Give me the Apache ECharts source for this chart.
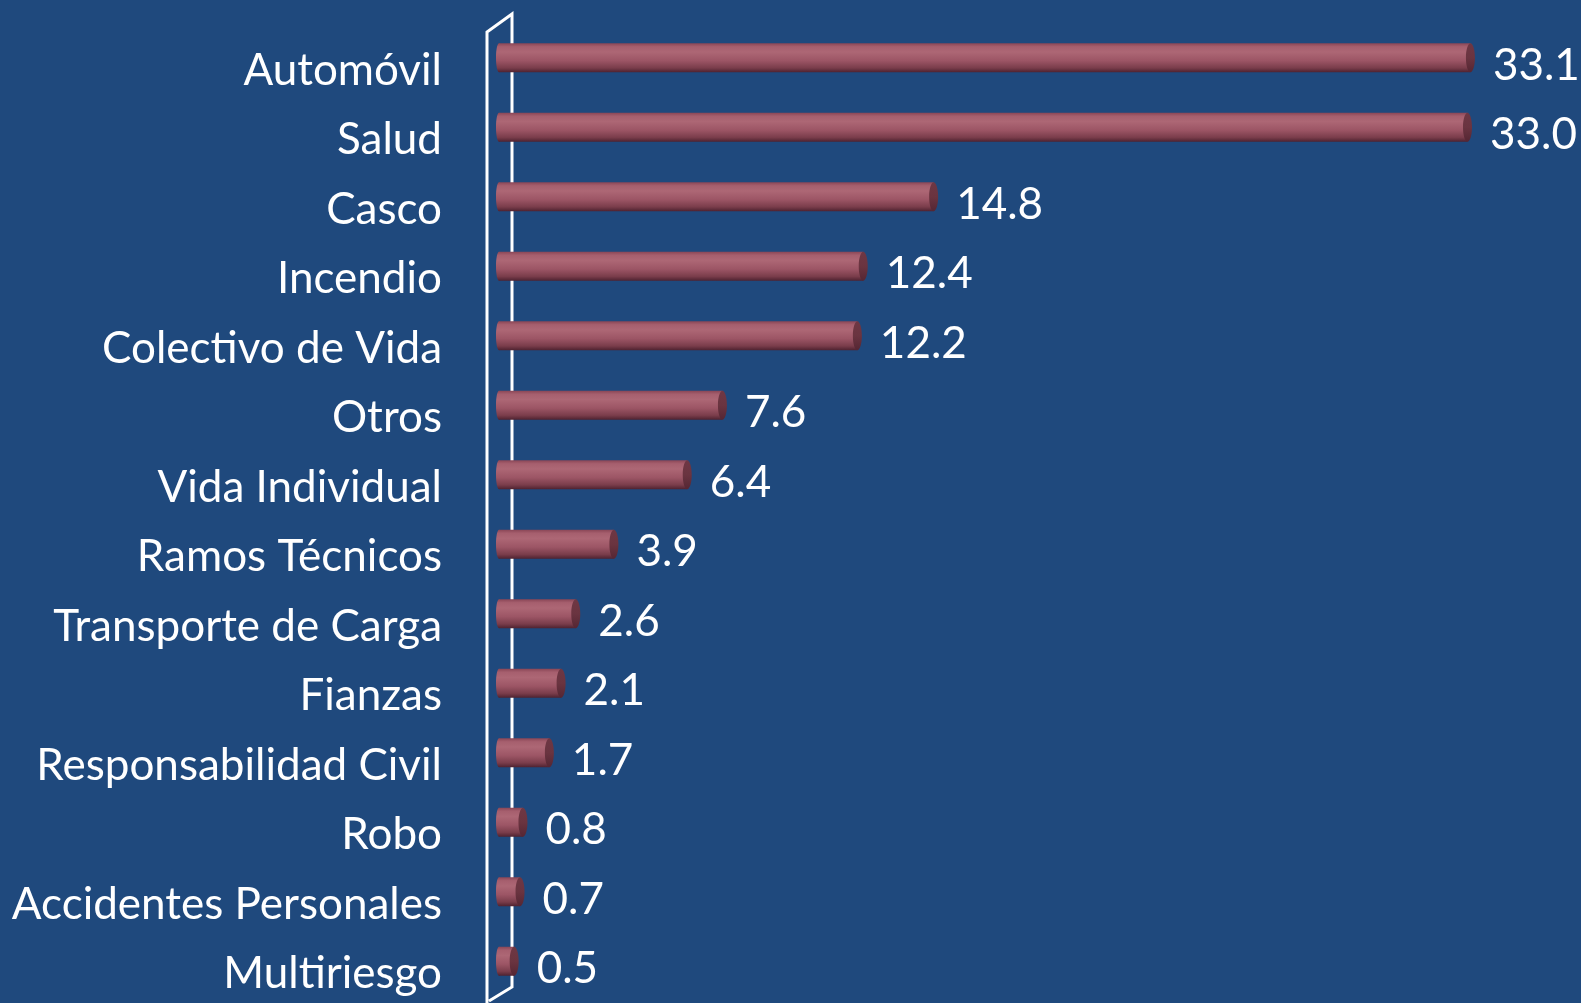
<!DOCTYPE html>
<html>
<head>
<meta charset="utf-8">
<script src="https://cdn.jsdelivr.net/npm/echarts@6/dist/echarts.min.js"></script>
<style>
html,body{margin:0;padding:0;background:#1F497D;}
#main{width:1581px;height:1003px;}
</style>
</head>
<body>
<div id="main"></div>
<script>
const categories = ['Automóvil','Salud','Casco','Incendio','Colectivo de Vida','Otros','Vida Individual','Ramos Técnicos','Transporte de Carga','Fianzas','Responsabilidad Civil','Robo','Accidentes Personales','Multiriesgo'];
const values = [33.1,33.0,14.8,12.4,12.2,7.6,6.4,3.9,2.6,2.1,1.7,0.8,0.7,0.5];

const FONT = 'Lato';
const FS = 44;
const chart = echarts.init(document.getElementById('main'));

const bodyGrad = () => new echarts.graphic.LinearGradient(0,0,0,1,[
  {offset:0, color:'#8A4656'},
  {offset:0.12, color:'#A65F6E'},
  {offset:0.3, color:'#AD6775'},
  {offset:0.6, color:'#9C5565'},
  {offset:0.85, color:'#7A3D4B'},
  {offset:1, color:'#4E2230'}
]);
const capGrad = () => new echarts.graphic.LinearGradient(0,0,0,1,[
  {offset:0, color:'#6E3744'},
  {offset:0.5, color:'#6A3440'},
  {offset:1, color:'#552633'}
]);

function renderItem(params, api){
  const v = api.value(0), i = api.value(1);
  const end = api.coord([v, i]);
  const start = api.coord([0, i]);
  const h = 29, rx = 4.5;
  const y = end[1] - h/2;
  const x0 = start[0] - 5;
  const xe = end[0] - rx;
  return {type:'group', children:[
    {type:'rect', shape:{x:x0, y:y, width:Math.max(xe-x0,0), height:h}, style:{fill:bodyGrad()}},
    {type:'ellipse', shape:{cx:x0, cy:end[1], rx:3, ry:h/2}, style:{fill:bodyGrad()}},
    {type:'ellipse', shape:{cx:xe, cy:end[1], rx:rx, ry:h/2}, style:{fill:capGrad()}},
    {type:'text', style:{text:v.toFixed(1), x:end[0]+18, y:end[1]+8, fill:'#FFFFFF',
      fontSize:FS, fontFamily:FONT, verticalAlign:'middle', align:'left'}},
    {type:'text', style:{text:categories[i], x:start[0]-62, y:end[1]+13, fill:'#FFFFFF',
      fontSize:FS, fontFamily:FONT, verticalAlign:'middle', align:'right'}}
  ]};
}

chart.setOption({
  backgroundColor:'#1F497D',
  animation:false,
  grid:{left:504, top:23, height:973, width:1056, containLabel:false},
  xAxis:{type:'value', min:0, max:36, show:false},
  yAxis:{type:'category', data:categories, inverse:true,
    axisLine:{show:false}, axisTick:{show:false}, splitLine:{show:false},
    axisLabel:{show:false}},
  series:[{type:'custom', renderItem:renderItem, z:5, clip:false,
    encode:{x:0, y:1},
    data:values.map((v,i)=>[v,i])}]
});

// Axis walls (decoration) positioned from the grid's zero line
const z0 = chart.convertToPixel({gridIndex:0}, [0, 0])[0];
const front = z0 - 17, back = z0 + 8;
const lineStyle = {stroke:'#FFFFFF', lineWidth:3, fill:null};
chart.setOption({
  graphic:[
    {type:'polyline', z:1, shape:{points:[[front,1010],[front,32],[back,14],[back,987],[front+2,1001]]}, style:lineStyle}
  ]
});
</script>
</body>
</html>
